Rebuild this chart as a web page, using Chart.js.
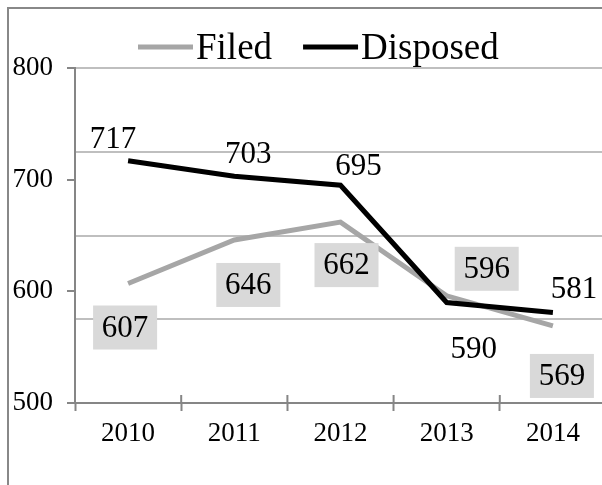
<!DOCTYPE html>
<html>
<head>
<meta charset="utf-8">
<script src="https://cdn.jsdelivr.net/npm/chart.js@4"></script>
<style>
  html, body { margin: 0; padding: 0; background: #fff; overflow: hidden; }
  #wrap { position: relative; width: 602px; height: 485px; overflow: hidden; }
  #frame { position: absolute; left: 7px; top: 7px; width: 700px; height: 600px;
           border-left: 2px solid #888888; border-top: 2px solid #888888; }
  #myChart { position: absolute; left: 0; top: 0; }
</style>
</head>
<body>
<div id="wrap">
  <div id="frame"></div>
  <canvas id="myChart" width="620" height="485"></canvas>
</div>
<script>
'use strict';

let years = ['2010', '2011', '2012', '2013', '2014'];
let filed = [607, 646, 662, 596, 569];
let disposed = [717, 703, 695, 590, 581];
let yLabels = [500, 600, 700, 800];
let gridValues = [575, 650, 725, 800];

const serif = '"Liberation Serif", "Times New Roman", serif';

// where each value label sits around its point (dx, dy from the point)
let filedLabelOffset = [[-3, 44], [14, 45], [6, 43], [40, -27], [9, 50]];
let disposedLabelOffset = [[-15, -22], [14, -22], [18, -19], [27, 46], [21, -24]];

let valueLabels = {
    id: 'valueLabels',
    afterDatasetsDraw(chart) {
        let ctx = chart.ctx;
        ctx.save();
        ctx.font = '31px ' + serif;
        ctx.textAlign = 'center';
        ctx.textBaseline = 'middle';
        chart.data.datasets.forEach(function (ds, i) {
            let meta = chart.getDatasetMeta(i);
            let offs = ds.label === 'Filed' ? filedLabelOffset : disposedLabelOffset;
            meta.data.forEach(function (pt, j) {
                let x = pt.x + offs[j][0];
                let y = pt.y + offs[j][1];
                let txt = String(ds.data[j]);
                if (ds.label === 'Filed') {
                    ctx.fillStyle = '#d9d9d9';
                    ctx.fillRect(x - 32, y - 22, 64, 44);
                }
                ctx.fillStyle = '#000';
                ctx.fillText(txt, x, y + 1);
            });
        });
        ctx.restore();
    }
};

// legend drawn by hand: Excel puts the text right next to the line sample
let lineLegend = {
    id: 'lineLegend',
    afterDraw(chart) {
        let ctx = chart.ctx;
        ctx.save();
        ctx.font = '37px ' + serif;
        ctx.textBaseline = 'middle';
        let x = 138;
        let y = 47;
        chart.data.datasets.forEach(function (ds) {
            ctx.strokeStyle = ds.borderColor;
            ctx.lineWidth = 5;
            ctx.beginPath();
            ctx.moveTo(x, y);
            ctx.lineTo(x + 55, y);
            ctx.stroke();
            x += 58;
            ctx.fillStyle = '#000';
            ctx.fillText(ds.label, x, y + 2);
            x += ctx.measureText(ds.label).width + 31;
        });
        ctx.restore();
    }
};

// x tick marks cross the axis in the original
let crossTicks = {
    id: 'crossTicks',
    afterDraw(chart) {
        let ctx = chart.ctx;
        let xs = chart.scales.x;
        let bottom = chart.chartArea.bottom;
        ctx.save();
        ctx.strokeStyle = '#868686';
        ctx.lineWidth = 2;
        ctx.beginPath();
        for (let i = 0; i <= years.length; i++) {
            let px = xs.getPixelForTick(0) + (i - 0.5) * (xs.getPixelForTick(1) - xs.getPixelForTick(0));
            ctx.moveTo(px, bottom - 8);
            ctx.lineTo(px, bottom);
        }
        ctx.stroke();
        ctx.restore();
    }
};

let ctx = document.getElementById('myChart').getContext('2d');
let myChart = new Chart(ctx, {
    type: 'line',
    data: {
        labels: years,
        datasets: [{
            label: 'Filed',
            data: filed,
            borderColor: '#a6a6a6',
            backgroundColor: '#a6a6a6',
            borderWidth: 5,
            pointRadius: 0,
            tension: 0,
            order: 1
        },
        {
            label: 'Disposed',
            data: disposed,
            borderColor: '#000000',
            backgroundColor: '#000000',
            borderWidth: 5,
            pointRadius: 0,
            tension: 0,
            order: 0
        }]
    },
    options: {
        responsive: false,
        animation: false,
        layout: { padding: { top: 68, right: 14, left: 0, bottom: 0 } },
        plugins: {
            legend: { display: false },
            tooltip: { enabled: false }
        },
        scales: {
            x: {
                offset: true,
                grid: {
                    offset: true,
                    drawOnChartArea: false,
                    drawTicks: true,
                    tickLength: 8,
                    tickColor: '#868686',
                    tickWidth: 2
                },
                border: { color: '#868686', width: 2 },
                ticks: {
                    color: '#000',
                    font: { family: serif, size: 27 },
                    padding: 7,
                    maxRotation: 0
                },
                afterFit(scale) { scale.height = 82; }
            },
            y: {
                min: 500,
                max: 800,
                grid: {
                    color: function (c) {
                        return gridValues.includes(c.tick.value) ? '#bfbfbf' : 'rgba(0,0,0,0)';
                    },
                    lineWidth: 2,
                    tickLength: 8,
                    tickColor: function (c) {
                        return yLabels.includes(c.tick.value) ? '#868686' : 'rgba(0,0,0,0)';
                    },
                    tickWidth: 2
                },
                border: { color: '#868686', width: 2 },
                ticks: {
                    stepSize: 25,
                    autoSkip: false,
                    color: '#000',
                    font: { family: serif, size: 27 },
                    padding: 14,
                    callback: function (v) {
                        return yLabels.includes(v) ? String(v) : '';
                    }
                },
                afterFit(scale) { scale.width = 75; }
            }
        }
    },
    plugins: [valueLabels, lineLegend, crossTicks]
});
</script>
</body>
</html>
